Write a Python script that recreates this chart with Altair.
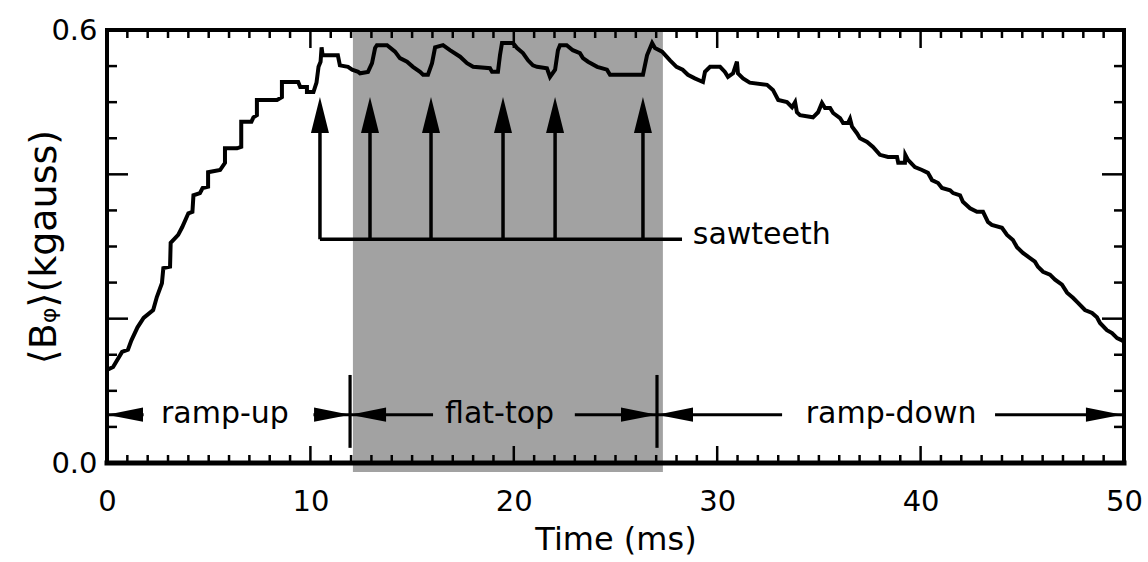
import altair as alt
import pandas as pd

# ---- main trace: <B_phi> (kgauss) vs time (ms) ----
t_vals = [0.0, 0.3, 0.74, 1.03, 1.2, 1.5, 1.8, 2.27, 2.45, 2.7, 2.77, 3.1, 3.13, 3.5, 3.7,
          4.0, 4.2, 4.25, 4.57, 4.7, 4.97, 4.97, 5.56, 5.8, 5.8, 6.39, 6.6, 6.6, 7.1, 7.2,
          7.37, 7.37, 8.36, 8.6, 8.6, 9.4, 9.5, 9.83, 9.83, 10.15, 10.3, 10.4, 10.5, 10.55,
          10.6, 11.35, 11.45, 11.85, 12.05, 12.35, 12.44, 12.83, 13.03, 13.18, 13.27, 13.77,
          14.16, 14.4, 14.75, 15.04, 15.39, 15.54, 15.78, 15.98, 16.13, 16.52, 16.86, 17.36,
          17.7, 18.0, 18.83, 18.93, 19.22, 19.32, 19.42, 19.96, 20.16, 20.45, 20.7, 20.94,
          21.14, 21.63, 21.78, 22.03, 22.17, 22.27, 22.6, 22.9, 23.25, 23.4, 23.65, 24.1,
          24.58, 24.73, 26.35, 26.55, 26.8, 26.94, 27.29, 27.68, 28.0, 28.3, 28.56, 28.9,
          29.3, 29.4, 29.65, 30.14, 30.38, 30.53, 30.78, 30.97, 31.02, 31.27, 31.6, 32.45,
          32.74, 33.0, 33.43, 33.68, 33.83, 33.92, 34.07, 34.71, 34.96, 35.15, 35.3, 35.55,
          35.7, 36.04, 36.19, 36.43, 36.53, 36.63, 36.87, 37.02, 37.37, 37.66, 38.0, 38.4,
          38.84, 38.9, 39.23, 39.25, 39.38, 39.72, 40.07, 40.36, 40.56, 40.86, 41.05, 41.45,
          41.6, 41.94, 42.08, 42.43, 42.77, 43.07, 43.31, 43.5, 44.0, 44.25, 44.54, 44.74,
          45.03, 45.38, 45.62, 45.77, 46.02, 46.36, 46.61, 46.95, 47.2, 47.49, 47.74, 48.08,
          48.43, 48.67, 48.82, 49.16, 49.41, 49.66, 49.9, 50.0]
b_vals = [0.129, 0.133, 0.154, 0.157, 0.170, 0.188, 0.201, 0.212, 0.230, 0.249, 0.270, 0.272,
          0.305, 0.316, 0.327, 0.346, 0.348, 0.371, 0.374, 0.381, 0.383, 0.403, 0.406, 0.416,
          0.436, 0.436, 0.438, 0.473, 0.473, 0.479, 0.482, 0.503, 0.503, 0.507, 0.528, 0.528,
          0.521, 0.521, 0.514, 0.514, 0.527, 0.549, 0.556, 0.576, 0.565, 0.565, 0.551, 0.549,
          0.545, 0.542, 0.540, 0.542, 0.554, 0.575, 0.579, 0.579, 0.570, 0.561, 0.556, 0.549,
          0.542, 0.538, 0.538, 0.554, 0.576, 0.579, 0.572, 0.563, 0.554, 0.549, 0.547, 0.542,
          0.542, 0.565, 0.582, 0.582, 0.575, 0.568, 0.558, 0.551, 0.549, 0.547, 0.535, 0.545,
          0.572, 0.579, 0.579, 0.572, 0.568, 0.561, 0.556, 0.549, 0.545, 0.538, 0.538, 0.565,
          0.582, 0.575, 0.570, 0.558, 0.549, 0.545, 0.538, 0.533, 0.528, 0.542, 0.549, 0.549,
          0.542, 0.535, 0.540, 0.556, 0.540, 0.533, 0.527, 0.524, 0.517, 0.503, 0.500, 0.493,
          0.500, 0.486, 0.482, 0.479, 0.486, 0.499, 0.492, 0.492, 0.485, 0.478, 0.471, 0.471,
          0.477, 0.466, 0.457, 0.450, 0.445, 0.438, 0.427, 0.424, 0.424, 0.416, 0.416, 0.427,
          0.420, 0.410, 0.406, 0.402, 0.392, 0.388, 0.381, 0.378, 0.374, 0.371, 0.362, 0.353,
          0.348, 0.348, 0.334, 0.330, 0.326, 0.316, 0.309, 0.299, 0.291, 0.284, 0.279, 0.272,
          0.265, 0.261, 0.254, 0.247, 0.236, 0.229, 0.222, 0.212, 0.208, 0.202, 0.194, 0.184,
          0.180, 0.173, 0.170, 0.168]

# ---- flat-top shading ----
shade_start = [12.09]
shade_end = [27.33]
shade_bottom = [-0.0125]
shade_top = [0.6]

# ---- phase markers and labels ----
marker_t = [11.95, 27.04]
marker_lo = [0.021, 0.021]
marker_hi = [0.122, 0.122]
phase_names = ["ramp-up", "flat-top", "ramp-down"]
phase_label_t = [5.8, 19.3, 38.55]
phase_label_v = [0.055, 0.055, 0.055]
arrow_v = 0.067
arrow_from = [1.8, 10.15, 16.03, 23.0, 33.19, 43.66]
arrow_tip = [0.0, 11.95, 11.95, 27.04, 27.04, 49.9]
arrow_dir = ["left", "right", "left", "right", "left", "right"]

# ---- sawtooth crash arrows ----
saw_t = [10.47, 12.93, 15.93, 19.47, 22.03, 26.35]
saw_base_v = 0.310
saw_shaft_top = 0.47
saw_tip_v = 0.507
saw_line_end = 28.27
saw_label = "sawteeth"
saw_label_t = 28.8

# ---- axis ticks ----
x_minor = [i for i in range(0, 51) if i % 10 != 0]
x_major = [10, 20, 30, 40]
y_minor = [0.05, 0.1, 0.15, 0.25, 0.3, 0.35, 0.45, 0.5, 0.55]
y_major = [0.2, 0.4]

FONT = "DejaVu Sans"
W, H = 1017, 433

xs = alt.Scale(domain=[0, 50], nice=False, zero=False)
ys = alt.Scale(domain=[0, 0.6], nice=False, zero=False)

curve_df = pd.DataFrame({"t": t_vals, "b": b_vals, "i": range(len(t_vals))})

shade = alt.Chart(pd.DataFrame({"x": shade_start, "x2": shade_end,
                                "y": shade_bottom, "y2": shade_top})).mark_rect(
    color="#a2a2a2").encode(
    x=alt.X("x:Q", scale=xs,
            axis=alt.Axis(values=[0, 10, 20, 30, 40, 50], ticks=False, tickSize=0,
                          domain=False, grid=False, labelFont=FONT, labelFontSize=29,
                          labelColor="black", labelPadding=24, labelFlush=False,
                          title="Time (ms)", titleFont=FONT, titleFontSize=32,
                          titleFontWeight="normal", titleColor="black", titlePadding=8)),
    x2="x2:Q",
    y=alt.Y("y:Q", scale=ys,
            axis=alt.Axis(values=[0, 0.6], format=".1f", ticks=False, tickSize=0,
                          domain=False, grid=False, labelFont=FONT, labelFontSize=29,
                          labelColor="black", labelPadding=10, labelFlush=False,
                          title="⟨Bᵩ⟩(kgauss)", titleFont=FONT, titleFontSize=38,
                          titleFontWeight="normal", titleColor="black",
                          titleAngle=270, titleX=-44, titleY=H / 2,
                          titleAlign="center", titleBaseline="bottom")),
    y2="y2:Q",
)

curve = alt.Chart(curve_df).mark_line(color="black", strokeWidth=4,
                                      strokeJoin="miter").encode(
    x=alt.X("t:Q", scale=xs), y=alt.Y("b:Q", scale=ys), order="i:Q")

# frame
frame_top = alt.Chart().mark_rule(color="black", strokeWidth=4, strokeCap="square").encode(
    x=alt.datum(0, scale=xs), x2=alt.datum(50), y=alt.datum(0.6, scale=ys))
frame_bottom = alt.Chart().mark_rule(color="black", strokeWidth=5, strokeCap="square").encode(
    x=alt.datum(0, scale=xs), x2=alt.datum(50), y=alt.datum(0, scale=ys))
frame_left = alt.Chart().mark_rule(color="black", strokeWidth=4, strokeCap="square").encode(
    x=alt.datum(0, scale=xs), y=alt.datum(0, scale=ys), y2=alt.datum(0.6))
frame_right = alt.Chart().mark_rule(color="black", strokeWidth=4, strokeCap="square").encode(
    x=alt.datum(50, scale=xs), y=alt.datum(0, scale=ys), y2=alt.datum(0.6))

def xticks(vals, v, off):
    return alt.Chart(pd.DataFrame({"t": vals})).mark_rule(
        color="black", strokeWidth=2.5, y2Offset=off).encode(
        x=alt.X("t:Q", scale=xs), y=alt.datum(v, scale=ys), y2=alt.datum(v))

def yticks(vals, t, off):
    return alt.Chart(pd.DataFrame({"v": vals})).mark_rule(
        color="black", strokeWidth=2.5, x2Offset=off).encode(
        y=alt.Y("v:Q", scale=ys), x=alt.datum(t, scale=xs), x2=alt.datum(t))

ticks = [xticks(x_minor, 0, -8), xticks(x_major, 0, -17),
         xticks(x_minor, 0.6, 8), xticks(x_major, 0.6, 18),
         yticks(y_minor, 0, 10), yticks(y_major, 0, 21),
         yticks(y_minor, 50, -10), yticks(y_major, 50, -22)]

markers = alt.Chart(pd.DataFrame({"t": marker_t, "lo": marker_lo, "hi": marker_hi})).mark_rule(
    color="black", strokeWidth=3.2).encode(
    x=alt.X("t:Q", scale=xs), y=alt.Y("lo:Q", scale=ys), y2="hi:Q")

arr_df = pd.DataFrame({"a": arrow_from, "b": arrow_tip, "d": arrow_dir,
                       "v": [arrow_v] * len(arrow_tip)})
arrow_lines = alt.Chart(arr_df).mark_rule(color="black", strokeWidth=3).encode(
    x=alt.X("a:Q", scale=xs), x2="b:Q", y=alt.Y("v:Q", scale=ys))
head_left = alt.Chart(arr_df[arr_df.d == "left"]).mark_point(
    shape="M0,0 L2,-0.4 L2,0.4 Z", size=1296, filled=True, color="black", opacity=1,
    strokeWidth=0).encode(x=alt.X("b:Q", scale=xs), y=alt.Y("v:Q", scale=ys))
head_right = alt.Chart(arr_df[arr_df.d == "right"]).mark_point(
    shape="M0,0 L-2,-0.4 L-2,0.4 Z", size=1296, filled=True, color="black", opacity=1,
    strokeWidth=0).encode(x=alt.X("b:Q", scale=xs), y=alt.Y("v:Q", scale=ys))

phase_text = alt.Chart(pd.DataFrame({"t": phase_label_t, "v": phase_label_v,
                                     "s": phase_names})).mark_text(
    font=FONT, fontSize=30, color="black", align="center", baseline="alphabetic").encode(
    x=alt.X("t:Q", scale=xs), y=alt.Y("v:Q", scale=ys), text="s:N")

saw_df = pd.DataFrame({"t": saw_t, "lo": [saw_base_v] * len(saw_t),
                       "hi": [saw_shaft_top] * len(saw_t), "tip": [saw_tip_v] * len(saw_t)})
saw_shafts = alt.Chart(saw_df).mark_rule(color="black", strokeWidth=3.5).encode(
    x=alt.X("t:Q", scale=xs), y=alt.Y("lo:Q", scale=ys), y2="hi:Q")
saw_heads = alt.Chart(saw_df).mark_point(
    shape="M0,0 L-0.5,2 L0.5,2 Z", size=1296, filled=True, color="black", opacity=1,
    strokeWidth=0).encode(x=alt.X("t:Q", scale=xs), y=alt.Y("tip:Q", scale=ys))
saw_line = alt.Chart(pd.DataFrame({"a": [saw_t[0]], "b": [saw_line_end],
                                   "v": [saw_base_v]})).mark_rule(
    color="black", strokeWidth=3.5).encode(
    x=alt.X("a:Q", scale=xs), x2="b:Q", y=alt.Y("v:Q", scale=ys))
saw_text = alt.Chart(pd.DataFrame({"t": [saw_label_t], "v": [saw_base_v - 0.007],
                                   "s": [saw_label]})).mark_text(
    font=FONT, fontSize=30, color="black", align="left", baseline="alphabetic").encode(
    x=alt.X("t:Q", scale=xs), y=alt.Y("v:Q", scale=ys), text="s:N")

chart = alt.layer(
    shade, curve, markers, arrow_lines, head_left, head_right, phase_text,
    saw_line, saw_shafts, saw_heads, saw_text,
    *ticks, frame_top, frame_bottom, frame_left, frame_right,
).properties(
    width=W, height=H,
    autosize=alt.AutoSizeParams(type="none"),
    padding={"left": 107, "top": 30, "right": 24, "bottom": 99},
    background="white",
).configure_view(stroke=None)

chart.save("out.html", embed_options={"renderer": "svg", "actions": False})
